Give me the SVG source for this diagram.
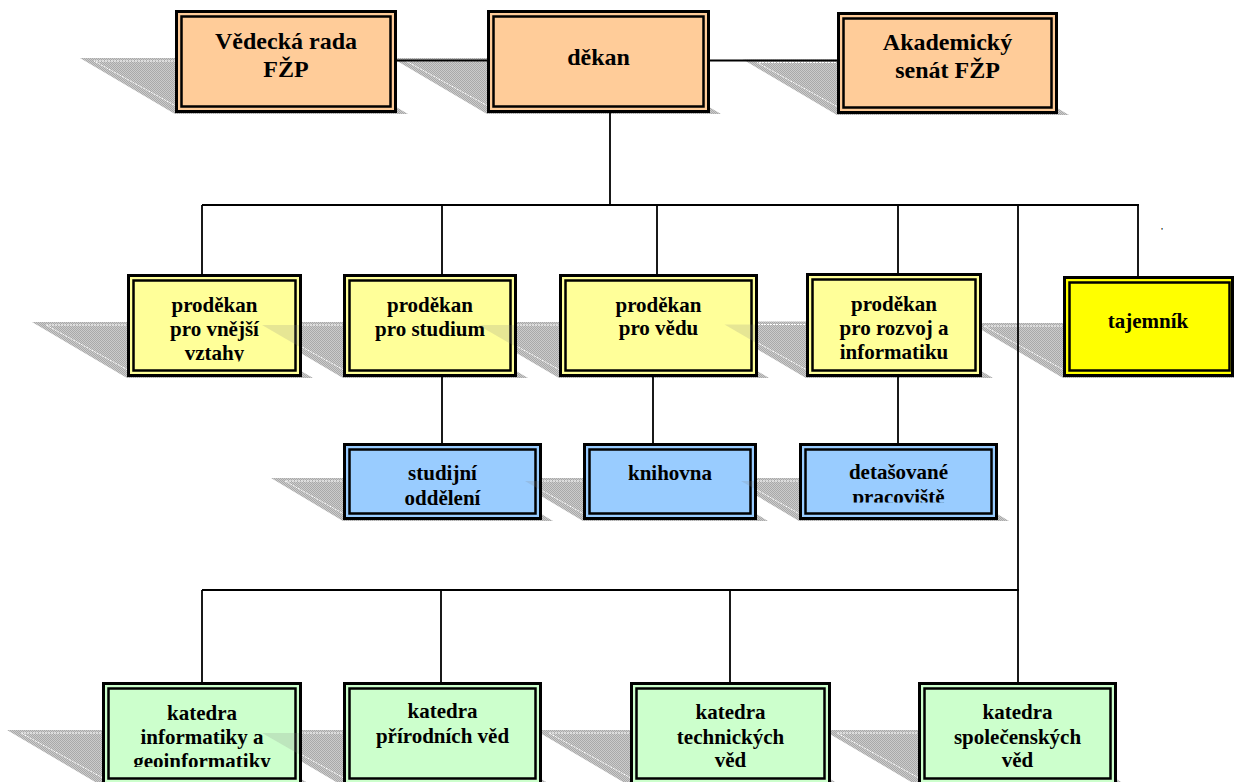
<svg xmlns="http://www.w3.org/2000/svg" width="1234" height="782" viewBox="0 0 1234 782">
<defs>
<pattern id="chk" width="2" height="2" patternUnits="userSpaceOnUse">
<rect width="2" height="2" fill="#cbcbcb"/>
<rect width="1" height="1" fill="#a9a9a9"/>
<rect x="1" y="1" width="1" height="1" fill="#a9a9a9"/>
</pattern>
<clipPath id="cVnejsi"><rect x="127" y="274" width="175" height="87.5"/></clipPath>
<clipPath id="cDet"><rect x="799" y="443" width="199" height="59.5"/></clipPath>
<clipPath id="cInf"><rect x="102" y="682" width="200" height="85"/></clipPath>
</defs>
<style>
.sh{fill:url(#chk);stroke:none}
.shl{fill:none;stroke:#ffffff;stroke-width:1;stroke-dasharray:2 1}
.ov{fill:#808080;fill-opacity:0.2;stroke:none}
.ob{stroke:#000;stroke-width:3}
.ib{fill:none;stroke:#000;stroke-width:2.5}
.t{font-family:"Liberation Serif","Times New Roman",serif;font-weight:bold;fill:#000;text-anchor:middle}
.t24{font-size:24px}
.t21{font-size:21px}
.c{fill:none;stroke:#000;stroke-width:1.8}
.peach{fill:#ffcc99}
.ly{fill:#ffff99}
.yy{fill:#ffff00}
.bl{fill:#99ccff}
.gr{fill:#ccffcc}
</style>
<rect width="1234" height="782" fill="#ffffff"/>

<g id="shadows">
<polygon class="sh" points="80,58 313,58 408,114 175,114"/>
<polyline class="shl" points="200,61 94,61 185,111"/>
<polygon class="sh" points="392,58 626,58 721,114 487,114"/>
<polyline class="shl" points="510,61 406,61 497,111"/>
<polygon class="sh" points="743,59.5 974,59.5 1069,115 837,115"/>
<polyline class="shl" points="860,62.5 757,62.5 847,112"/>

<polygon class="sh" points="32,322 218,322 313,378 127,378"/>
<polyline class="shl" points="150,325 46,325 137,375"/>
<polygon class="sh" points="248,322 433,322 528,378 343,378"/>
<polyline class="shl" points="366,325 262,325 353,375"/>
<polygon class="sh" points="464,322 674,322 769,378 559,378"/>
<polyline class="shl" points="582,325 478,325 569,375"/>
<polygon class="sh" points="710.5,321.5 897.5,321.5 993,378 806,378"/>
<polyline class="shl" points="829,324.5 724.5,324.5 816,375"/>
<polygon class="sh" points="970,323 1152,323 1245,378 1063,378"/>
<polyline class="shl" points="1086,326 984,326 1073,375"/>

<polygon class="sh" points="271,478 481,478 553,521 343,521"/>
<polyline class="shl" points="366,481 285,481 351,518"/>
<polygon class="sh" points="511,478 696,478 768,521 583,521"/>
<polyline class="shl" points="606,481 525,481 591,518"/>
<polygon class="sh" points="727,478 937,478 1009,521 799,521"/>
<polyline class="shl" points="822,481 741,481 807,518"/>

<polygon class="sh" points="7,730 218,730 313,786 102,786"/>
<polyline class="shl" points="125,733 21,733 112,783"/>
<polygon class="sh" points="248,730 458,730 553,786 343,786"/>
<polyline class="shl" points="366,733 262,733 353,783"/>
<polygon class="sh" points="535,730 747,730 842,786 630,786"/>
<polyline class="shl" points="653,733 549,733 640,783"/>
<polygon class="sh" points="823,730 1033,730 1128,786 918,786"/>
<polyline class="shl" points="941,733 837,733 928,783"/>
</g>

<g id="connectors">
<line class="c" x1="397" y1="60.5" x2="487" y2="60.5"/>
<line class="c" x1="710" y1="60.5" x2="837" y2="60.5"/>
<line class="c" x1="610" y1="113" x2="610" y2="205"/>
<line class="c" x1="202" y1="205" x2="1139" y2="205"/>
<line class="c" x1="202" y1="205" x2="202" y2="274"/>
<line class="c" x1="442" y1="205" x2="442" y2="274"/>
<line class="c" x1="657" y1="205" x2="657" y2="274"/>
<line class="c" x1="898" y1="205" x2="898" y2="273"/>
<line class="c" x1="1138" y1="205" x2="1138" y2="276"/>
<line class="c" x1="442" y1="377" x2="442" y2="443"/>
<line class="c" x1="653" y1="377" x2="653" y2="443"/>
<line class="c" x1="898" y1="377" x2="898" y2="443"/>
<line class="c" x1="1018" y1="205" x2="1018" y2="590"/>
<line class="c" x1="202" y1="590" x2="1019" y2="590"/>
<line class="c" x1="202" y1="590" x2="202" y2="682"/>
<line class="c" x1="441" y1="590" x2="441" y2="682"/>
<line class="c" x1="730" y1="590" x2="730" y2="682"/>
<line class="c" x1="1018" y1="590" x2="1018" y2="682"/>
</g>

<g id="vedecka-rada">
<rect class="ob peach" x="176.5" y="11.5" width="219" height="100"/>
<rect class="ib" x="181.5" y="16.5" width="209" height="90"/>
<text class="t t24" x="286" y="49">Vědecká rada</text>
<text class="t t24" x="286" y="77">FŽP</text>
</g>
<g id="dekan">
<rect class="ob peach" x="488.5" y="11.5" width="220" height="100"/>
<rect class="ib" x="493.5" y="16.5" width="210" height="90"/>
<text class="t t24" x="598.5" y="65">děkan</text>
</g>
<g id="akademicky-senat">
<rect class="ob peach" x="838.5" y="13.5" width="218" height="99"/>
<rect class="ib" x="843.5" y="18.5" width="208" height="89"/>
<text class="t t24" x="947.5" y="50">Akademický</text>
<text class="t t24" x="947.5" y="78">senát FŽP</text>
</g>

<g id="prodekan-vnejsi">
<rect class="ob ly" x="128.5" y="275.5" width="172" height="100"/>
<rect class="ib" x="133.5" y="280.5" width="162" height="90"/>
<g clip-path="url(#cVnejsi)">
<text class="t t21" x="214.5" y="312">proděkan</text>
<text class="t t21" x="214.5" y="336">pro vnější</text>
<text class="t t21" x="214.5" y="360">vztahy</text>
</g>
</g>
<g id="prodekan-studium">
<polygon class="ov" points="262,325 299,325 299,346.4"/>
<rect class="ob ly" x="344.5" y="275.5" width="171" height="100"/>
<rect class="ib" x="349.5" y="280.5" width="161" height="90"/>
<text class="t t21" x="430" y="312">proděkan</text>
<text class="t t21" x="430" y="336">pro studium</text>
</g>
<g id="prodekan-veda">
<polygon class="ov" points="478,325 514,325 514,345.8"/>
<rect class="ob ly" x="560.5" y="275.5" width="196" height="100"/>
<rect class="ib" x="565.5" y="280.5" width="186" height="90"/>
<text class="t t21" x="658.5" y="312">proděkan</text>
<text class="t t21" x="658.5" y="335">pro vědu</text>
</g>
<g id="prodekan-rozvoj">
<polygon class="ov" points="724.5,324.5 755,324.5 755,342.2"/>
<rect class="ob ly" x="807.5" y="274.5" width="173" height="101"/>
<rect class="ib" x="812.5" y="279.5" width="163" height="91"/>
<text class="t t21" x="894" y="311">proděkan</text>
<text class="t t21" x="894" y="335">pro rozvoj a</text>
<text class="t t21" x="894" y="359">informatiku</text>
</g>
<g id="tajemnik">
<rect class="ob yy" x="1064.5" y="277.5" width="168" height="98"/>
<rect class="ib" x="1069.5" y="282.5" width="160" height="88"/>
<text class="t t21" x="1148" y="328">tajemník</text>
<text class="t" x="1162" y="234" font-size="9">'</text>
</g>

<g id="studijni-oddeleni">
<rect class="ob bl" x="344.5" y="444.5" width="196" height="74"/>
<rect class="ib" x="349.5" y="449.5" width="186" height="64"/>
<text class="t t21" x="442.5" y="480">studijní</text>
<text class="t t21" x="442.5" y="505">oddělení</text>
</g>
<g id="knihovna">
<polygon class="ov" points="525,481 539,481 539,489.2"/>
<rect class="ob bl" x="584.5" y="444.5" width="171" height="74"/>
<rect class="ib" x="589.5" y="449.5" width="161" height="64"/>
<text class="t t21" x="670" y="480">knihovna</text>
</g>
<g id="detasovane-pracoviste">
<polygon class="ov" points="741,481 754,481 754,488.6"/>
<rect class="ob bl" x="800.5" y="444.5" width="196" height="74"/>
<rect class="ib" x="805.5" y="449.5" width="186" height="64"/>
<g clip-path="url(#cDet)">
<text class="t t21" x="898.5" y="479">detašované</text>
<text class="t t21" x="898.5" y="504">pracoviště</text>
</g>
</g>

<g id="katedra-informatiky">
<rect class="ob gr" x="103.5" y="683.5" width="197" height="100"/>
<rect class="ib" x="108.5" y="688.5" width="187" height="90"/>
<g clip-path="url(#cInf)">
<text class="t t21" x="202" y="720">katedra</text>
<text class="t t21" x="202" y="744">informatiky a</text>
<text class="t t21" x="202" y="768">geoinformatiky</text>
</g>
</g>
<g id="katedra-prirodnich">
<polygon class="ov" points="262,733 299,733 299,754.3"/>
<rect class="ob gr" x="344.5" y="683.5" width="196" height="100"/>
<rect class="ib" x="349.5" y="688.5" width="186" height="90"/>
<text class="t t21" x="442.5" y="718">katedra</text>
<text class="t t21" x="442.5" y="743">přírodních věd</text>
</g>
<g id="katedra-technickych">
<rect class="ob gr" x="631.5" y="683.5" width="198" height="100"/>
<rect class="ib" x="636.5" y="688.5" width="188" height="90"/>
<text class="t t21" x="730.5" y="719">katedra</text>
<text class="t t21" x="730.5" y="744">technických</text>
<text class="t t21" x="730.5" y="767">věd</text>
</g>
<g id="katedra-spolecenskych">
<rect class="ob gr" x="919.5" y="683.5" width="196" height="100"/>
<rect class="ib" x="924.5" y="688.5" width="186" height="90"/>
<text class="t t21" x="1017.5" y="719">katedra</text>
<text class="t t21" x="1017.5" y="744">společenských</text>
<text class="t t21" x="1017.5" y="767">věd</text>
</g>
</svg>
